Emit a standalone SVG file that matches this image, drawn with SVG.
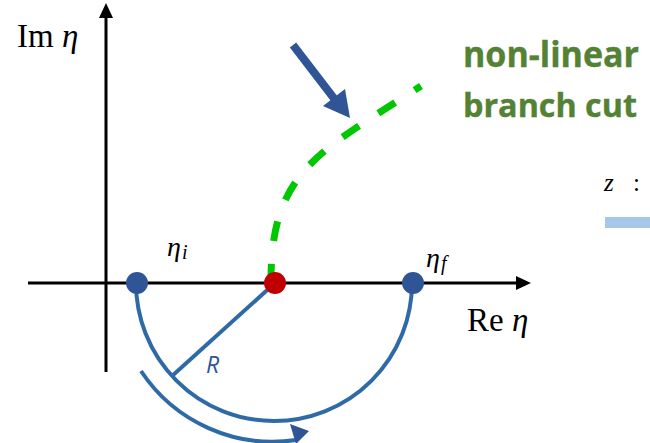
<svg xmlns="http://www.w3.org/2000/svg" width="650" height="443" viewBox="0 0 650 443">
<defs>
<style>
.axis{stroke:#000;stroke-width:3;fill:none}
.math{font-family:"Liberation Serif","Times New Roman",serif;fill:#000}
.it{font-style:italic}
.lbl{font-family:"Open Sans","Liberation Sans",sans-serif;font-weight:bold;fill:#548235;stroke:#548235;stroke-width:0.4;font-size:36px}
.circ{stroke:#2E6AA6;stroke-width:4;fill:none}
</style>
</defs>
<rect width="650" height="443" fill="#fff"/>
<g id="axes">
<line class="axis" x1="28" y1="283" x2="519" y2="283"/>
<polygon points="531,283 516,276 516,290" fill="#000"/>
<line class="axis" x1="106" y1="372" x2="106" y2="16"/>
<polygon points="106,3 99,18 113,18" fill="#000"/>
</g>
<g id="axis-labels">
<text class="math" x="17" y="47" font-size="33">Im <tspan class="it">η</tspan></text>
<text class="math" x="467" y="331" font-size="33">Re <tspan class="it">η</tspan></text>
</g>
<g id="connectors">
<path id="branch-cut" d="M271 280 C271 170 321 151 421 86" stroke="#00C800" stroke-width="7" fill="none" stroke-dasharray="20 23" stroke-dashoffset="4"/>
<path id="contour" class="circ" d="M136 283 A138 138 0 0 0 412 283"/>
<line id="radius" class="circ" x1="275" y1="283" x2="172" y2="376"/>
<path id="direction" d="M141 371 A158 158 0 0 0 296 440" stroke="#2E6AA6" stroke-width="4" fill="none"/>
<polygon points="309,431 290,424 296,444" fill="#2F5597"/>
<g id="pointer">
<line x1="293" y1="45" x2="336" y2="101" stroke="#2F5597" stroke-width="8"/>
<polygon points="350,118 323,106 345,89" fill="#2F5597"/>
</g>
</g>
<g id="node-eta-i">
<circle cx="137" cy="283" r="11" fill="#2F5597"/>
<text class="math it" x="167" y="256" font-size="28">η<tspan font-size="20" dx="1" dy="3">i</tspan></text>
</g>
<g id="node-center">
<circle cx="275" cy="283" r="11" fill="#C00000"/>
</g>
<g id="node-eta-f">
<circle cx="413" cy="283" r="11" fill="#2F5597"/>
<text class="math it" x="426" y="267" font-size="28">η<tspan font-size="20" dx="1" dy="3">f</tspan></text>
</g>
<g id="label-R">
<text x="206" y="373" font-family="'Open Sans','Liberation Sans',sans-serif" font-style="italic" font-size="23" fill="#2F5597">R</text>
</g>
<g id="label-branch">
<text class="lbl" x="463" y="67" textLength="176" lengthAdjust="spacingAndGlyphs">non-linear</text>
<text class="lbl" x="463" y="117" style="font-size:33px" textLength="174" lengthAdjust="spacingAndGlyphs">branch cut</text>
</g>
<g id="legend">
<text class="math it" x="604" y="191" font-size="25">z</text>
<text class="math" x="633" y="191" font-size="25">:</text>
<rect x="605" y="217" width="45" height="11" fill="#A7C7EA"/>
</g>
</svg>
